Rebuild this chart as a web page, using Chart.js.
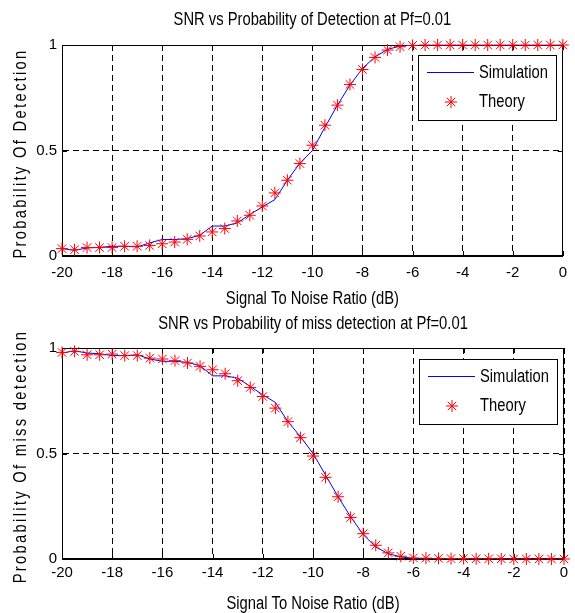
<!DOCTYPE html>
<html>
<head>
<meta charset="utf-8">
<script src="https://cdn.jsdelivr.net/npm/chart.js@4.4.0/dist/chart.umd.min.js"></script>
<style>
  html, body { margin: 0; padding: 0; background: #fff; }
  #wrap { position: relative; width: 575px; height: 613px; overflow: hidden; }
  .box { position: absolute; left: 0; width: 575px; }
  #top { top: 0; height: 310px; }
  #bottom { top: 306px; height: 307px; }
</style>
</head>
<body>
<div id="wrap">
  <div class="box" id="top"><canvas id="pdChart"></canvas></div>
  <div class="box" id="bottom"><canvas id="pmChart"></canvas></div>
</div>
<script>
const FONT = "'Liberation Sans', Arial, sans-serif";
const NARROW = 0.82; // matlab export squeezes the text sideways

// SNR in dB
const snr = [-20, -19.5, -19, -18.5, -18, -17.5, -17, -16.5, -16, -15.5, -15, -14.5, -14, -13.5,
  -13, -12.5, -12, -11.5, -11, -10.5, -10, -9.5, -9, -8.5, -8, -7.5, -7, -6.5, -6, -5.5,
  -5, -4.5, -4, -3.5, -3, -2.5, -2, -1.5, -1, -0.5, 0];

// probability of detection
const pdSim = [0.035, 0.027, 0.038, 0.041, 0.046, 0.046, 0.043, 0.062, 0.078, 0.078, 0.082, 0.098, 0.142, 0.142,
  0.157, 0.196, 0.233, 0.267, 0.359, 0.44, 0.50, 0.61, 0.715, 0.81, 0.889, 0.944, 0.979, 0.995, 1, 1,
  1, 1, 1, 1, 1, 1, 1, 1, 1, 1, 1];
const pdTheory = [0.035, 0.030, 0.040, 0.040, 0.040, 0.046, 0.046, 0.050, 0.058, 0.066, 0.079, 0.095, 0.114, 0.130,
  0.166, 0.193, 0.237, 0.299, 0.359, 0.438, 0.525, 0.620, 0.715, 0.813, 0.884, 0.941, 0.976, 0.992, 0.998, 1,
  1, 1, 1, 1, 1, 1, 1, 1, 1, 1, 1];

// probability of miss detection
const pmSim = [0.976, 0.987, 0.976, 0.973, 0.964, 0.964, 0.968, 0.948, 0.937, 0.937, 0.932, 0.916, 0.868, 0.868,
  0.857, 0.818, 0.778, 0.742, 0.651, 0.58, 0.50, 0.398, 0.295, 0.2, 0.116, 0.057, 0.025, 0.01, 0.003, 0.001,
  0, 0, 0, 0, 0, 0, 0, 0, 0, 0, 0];
const pmTheory = [0.979, 0.984, 0.968, 0.968, 0.971, 0.964, 0.964, 0.952, 0.948, 0.94, 0.929, 0.913, 0.897, 0.878,
  0.845, 0.813, 0.77, 0.715, 0.651, 0.575, 0.488, 0.387, 0.295, 0.197, 0.12, 0.065, 0.029, 0.013, 0.005, 0.004,
  0.003, 0.002, 0.002, 0.001, 0.001, 0.001, 0, 0, 0, 0, 0];

const xTicks = { min: -20, max: 0, step: 2 };
const yTicks = { min: 0, max: 1, step: 0.5 };
const xLabel = 'Signal To Noise Ratio (dB)';

function squeezedText(ctx, text, x, y) {
  ctx.save();
  ctx.translate(x, y);
  ctx.scale(NARROW, 1);
  ctx.fillText(text, 0, 0);
  ctx.restore();
}

// matlab-ish frame, inward ticks, legend box, titles
const matlabPlugin = {
  id: 'matlab',
  beforeDatasetsDraw(chart) {
    const { ctx, chartArea: a, scales: { x, y } } = chart;
    ctx.save();
    ctx.strokeStyle = '#000';
    ctx.lineWidth = 1;
    ctx.setLineDash([]);
    ctx.beginPath();
    x.ticks.forEach(t => {
      const px = Math.round(x.getPixelForValue(t.value)) + 0.5;
      ctx.moveTo(px, a.bottom); ctx.lineTo(px, a.bottom - 5);
      ctx.moveTo(px, a.top); ctx.lineTo(px, a.top + 5);
    });
    y.ticks.forEach(t => {
      const py = Math.round(y.getPixelForValue(t.value)) + 0.5;
      ctx.moveTo(a.left, py); ctx.lineTo(a.left + 5, py);
      ctx.moveTo(a.right, py); ctx.lineTo(a.right - 5, py);
    });
    ctx.stroke();
    ctx.strokeRect(Math.round(a.left) + 0.5, Math.round(a.top) + 0.5,
      Math.round(a.width) - 1, Math.round(a.height) - 1);
    ctx.restore();
  },
  afterDatasetsDraw(chart, args, opts) {
    const { ctx, chartArea: a } = chart;
    const [sim, th] = chart.data.datasets;
    const bw = 138, bh = 65;
    const bx = Math.round(a.right - 7 - bw), by = Math.round(a.top + opts.legendTop);
    ctx.save();
    ctx.fillStyle = '#fff';
    ctx.fillRect(bx, by, bw, bh);
    ctx.strokeStyle = '#000';
    ctx.lineWidth = 1;
    ctx.strokeRect(bx + 0.5, by + 0.5, bw, bh);

    ctx.strokeStyle = sim.borderColor;
    ctx.lineWidth = sim.borderWidth;
    ctx.beginPath();
    ctx.moveTo(bx + 9, by + 17.5);
    ctx.lineTo(bx + 56, by + 17.5);
    ctx.stroke();

    const sx = bx + 33, sy = by + 47, r = th.pointRadius, d = r * Math.SQRT1_2;
    ctx.strokeStyle = th.borderColor;
    ctx.lineWidth = th.pointBorderWidth;
    ctx.beginPath();
    ctx.moveTo(sx - r, sy); ctx.lineTo(sx + r, sy);
    ctx.moveTo(sx, sy - r); ctx.lineTo(sx, sy + r);
    ctx.moveTo(sx - d, sy - d); ctx.lineTo(sx + d, sy + d);
    ctx.moveTo(sx - d, sy + d); ctx.lineTo(sx + d, sy - d);
    ctx.stroke();

    ctx.fillStyle = '#000';
    ctx.font = `18px ${FONT}`;
    ctx.textAlign = 'left';
    ctx.textBaseline = 'middle';
    squeezedText(ctx, sim.label, bx + 61, by + 18);
    squeezedText(ctx, th.label, bx + 61, by + 47);
    ctx.restore();
  },
  afterDraw(chart, args, opts) {
    const { ctx, chartArea: a } = chart;
    const cx = (a.left + a.right) / 2;
    ctx.save();
    ctx.fillStyle = '#000';
    ctx.font = `18px ${FONT}`;
    ctx.textAlign = 'center';
    ctx.textBaseline = 'middle';
    squeezedText(ctx, opts.title, cx, opts.titleY);
    squeezedText(ctx, xLabel, cx, opts.xTitleY);

    ctx.letterSpacing = '2.8px';
    ctx.translate(21, (a.top + a.bottom) / 2 + 3);
    ctx.rotate(-Math.PI / 2);
    squeezedText(ctx, opts.yTitle, 0, 0);
    ctx.restore();
  }
};

function buildChart(id, title, yTitle, simVals, thVals, cfg) {
  return new Chart(document.getElementById(id), {
    type: 'line',
    data: {
      datasets: [
        {
          label: 'Simulation',
          data: snr.map((v, i) => ({ x: v, y: simVals[i] })),
          borderColor: 'rgb(0,0,255)',
          borderWidth: 1,
          pointRadius: 0,
          tension: 0,
          fill: false,
          order: 1
        },
        {
          label: 'Theory',
          data: snr.map((v, i) => ({ x: v, y: thVals[i] })),
          showLine: false,
          pointStyle: 'star',
          pointRadius: 6,
          borderColor: 'rgb(255,0,0)',
          backgroundColor: 'rgb(255,0,0)',
          pointBorderWidth: 1,
          clip: false,
          order: 0
        }
      ]
    },
    options: {
      responsive: true,
      maintainAspectRatio: false,
      animation: false,
      layout: { padding: { left: 0, right: 11, top: cfg.top, bottom: 0 } },
      plugins: {
        legend: { display: false },
        tooltip: { enabled: false },
        title: { display: false },
        matlab: { title, yTitle, titleY: cfg.titleY, xTitleY: cfg.xTitleY, legendTop: cfg.legendTop }
      },
      scales: {
        x: {
          type: 'linear',
          min: xTicks.min,
          max: xTicks.max,
          ticks: {
            stepSize: xTicks.step, autoSkip: false, maxRotation: 0, color: '#000',
            padding: cfg.tickPad, font: { family: FONT, size: 15 }
          },
          grid: { color: '#000', lineWidth: 1, drawTicks: false },
          border: { color: '#000', dash: [6, 4] },
          afterFit: s => { s.height = cfg.xHeight; }
        },
        y: {
          min: yTicks.min,
          max: yTicks.max,
          ticks: {
            stepSize: yTicks.step, color: '#000', padding: 5,
            font: { family: FONT, size: 15 },
            callback: v => String(v)
          },
          grid: { color: '#000', lineWidth: 1, drawTicks: false },
          border: { color: '#000', dash: [6, 4] },
          afterFit: s => { s.width = 62; }
        }
      }
    },
    plugins: [matlabPlugin]
  });
}

buildChart('pdChart', 'SNR vs Probability of Detection at Pf=0.01', 'Probability Of Detection',
  pdSim, pdTheory, { top: 45, titleY: 20, xTitleY: 299, legendTop: 10, tickPad: 8, xHeight: 54 });
buildChart('pmChart', 'SNR vs Probability of miss detection at Pf=0.01', 'Probability Of miss detection',
  pmSim, pmTheory, { top: 42, titleY: 18, xTitleY: 298, legendTop: 11, tickPad: 5, xHeight: 54 });
</script>
</body>
</html>
